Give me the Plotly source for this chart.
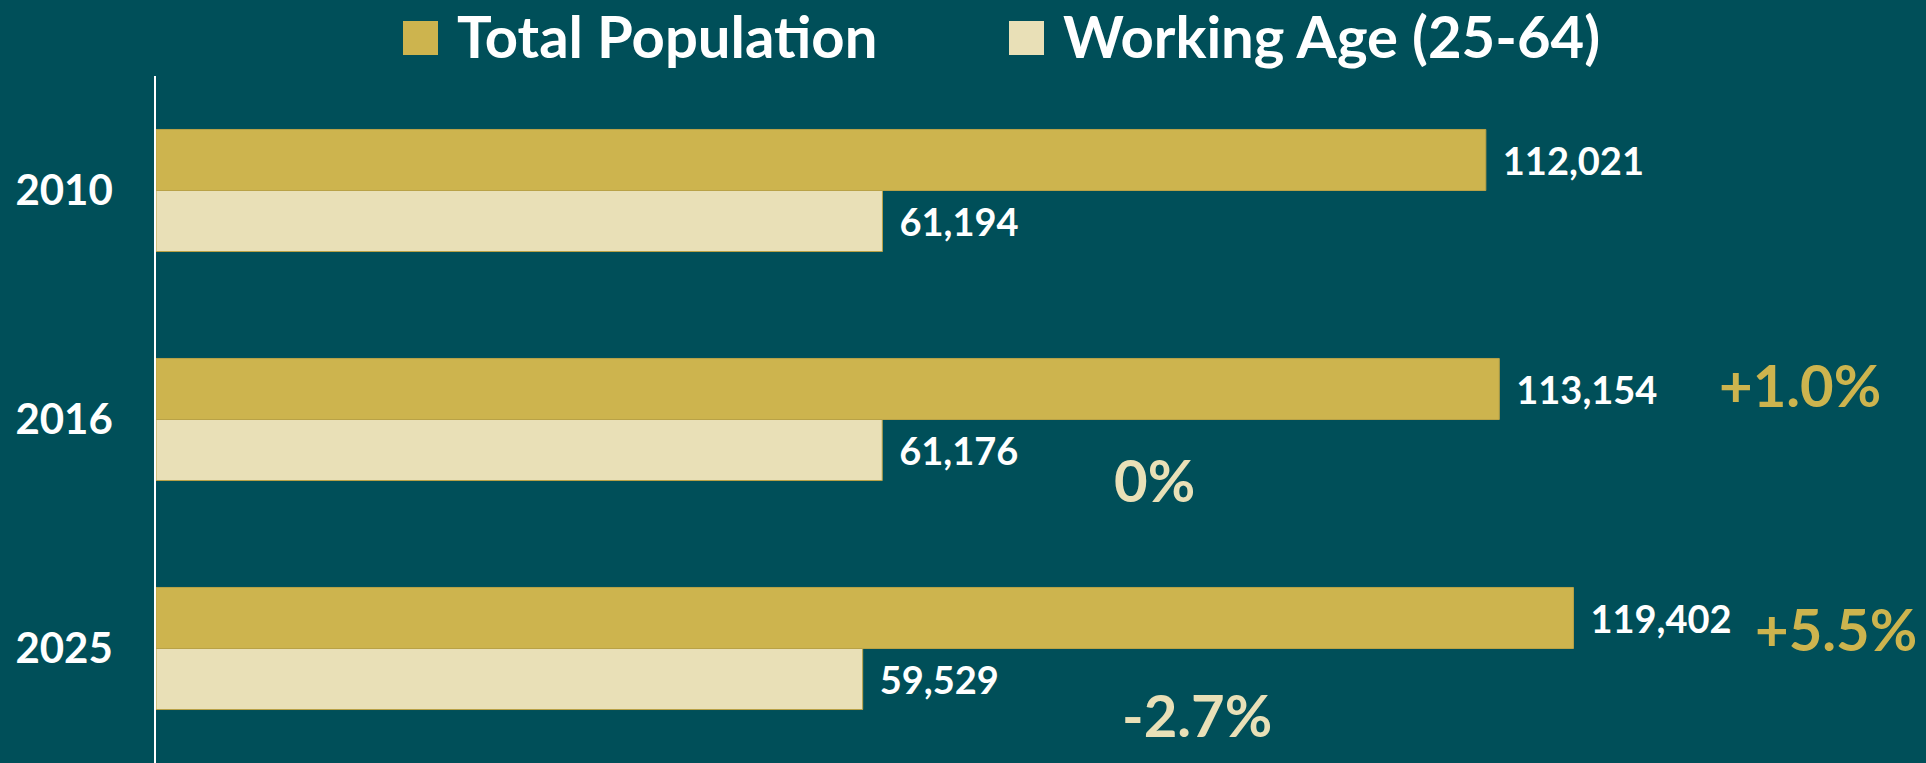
import plotly.graph_objects as go

years = ["2010", "2016", "2025"]
total_population = [112021, 113154, 119402]
working_age = [61194, 61176, 59529]
series_names = ["Total Population", "Working Age (25-64)"]
total_change = ["+1.0%", "+5.5%"]
working_change = ["0%", "-2.7%"]

BG = "#004F59"
GOLD = "#CDB44E"
BEIGE = "#E9E0B7"
FONT = "Lato"

W, H = 1926, 763
L, T = 156, 76


def px(x, y):
    # pixel position -> paper coordinates
    return (x - L) / (W - L), 1 - (y - T) / (H - T)


fig = go.Figure()

for name, vals, color in [
    (series_names[0], total_population, GOLD),
    (series_names[1], working_age, BEIGE),
]:
    fig.add_trace(
        go.Bar(
            y=years,
            x=vals,
            name=name,
            orientation="h",
            marker=dict(color=color, line=dict(color="#B9A247", width=1)),
            texttemplate="\u00a0\u2009%{x:,}",
            textposition="outside",
            textfont=dict(family=FONT, size=38, color="white", weight="bold"),
            cliponaxis=False,
            showlegend=False,
        )
    )

# legend drawn by hand so the swatches can be large
legend_items = [(series_names[0], GOLD, 403, 456), (series_names[1], BEIGE, 1009, 1062)]
for name, color, sx, tx in legend_items:
    x0, y0 = px(sx, 21)
    x1, y1 = px(sx + 35, 55)
    fig.add_shape(
        type="rect", xref="paper", yref="paper",
        x0=x0, x1=x1, y0=y1, y1=y0, fillcolor=color, line=dict(width=0),
    )
    ax, ay = px(tx, 0)
    fig.add_annotation(
        x=ax, y=ay, xref="paper", yref="paper", text=name, showarrow=False,
        xanchor="left", yanchor="top", borderpad=0,
        font=dict(family=FONT, size=58, color="white", weight="bold"),
    )

# percent change call-outs
change_labels = [
    (total_change[0], GOLD, 1800, 384),
    (working_change[0], BEIGE, 1154, 479),
    (total_change[1], GOLD, 1836, 628),
    (working_change[1], BEIGE, 1197, 714),
]
for text, color, x, y in change_labels:
    ax, ay = px(x, y)
    fig.add_annotation(
        x=ax, y=ay, xref="paper", yref="paper", text=text, showarrow=False,
        xanchor="center", yanchor="middle",
        font=dict(family=FONT, size=58, color=color, weight="bold"),
    )

fig.update_layout(
    width=W,
    height=H,
    barmode="group",
    bargap=0.467,
    bargroupgap=0,
    paper_bgcolor=BG,
    plot_bgcolor=BG,
    margin=dict(l=L, r=0, t=T, b=0),
    xaxis=dict(
        range=[0, 149100],
        visible=False,
        showgrid=False,
        zeroline=False,
    ),
    yaxis=dict(
        autorange="reversed",
        showgrid=False,
        showline=True,
        linecolor="white",
        linewidth=1.5,
        ticks="",
        ticklabelstandoff=33,
        tickfont=dict(family=FONT, size=42, color="white", weight="bold"),
    ),
)

# drop the default page margin so the figure sits at the window's corner
fig.write_html(
    "out.html",
    config={"displayModeBar": False},
    post_script="document.body.style.margin='0';",
)
